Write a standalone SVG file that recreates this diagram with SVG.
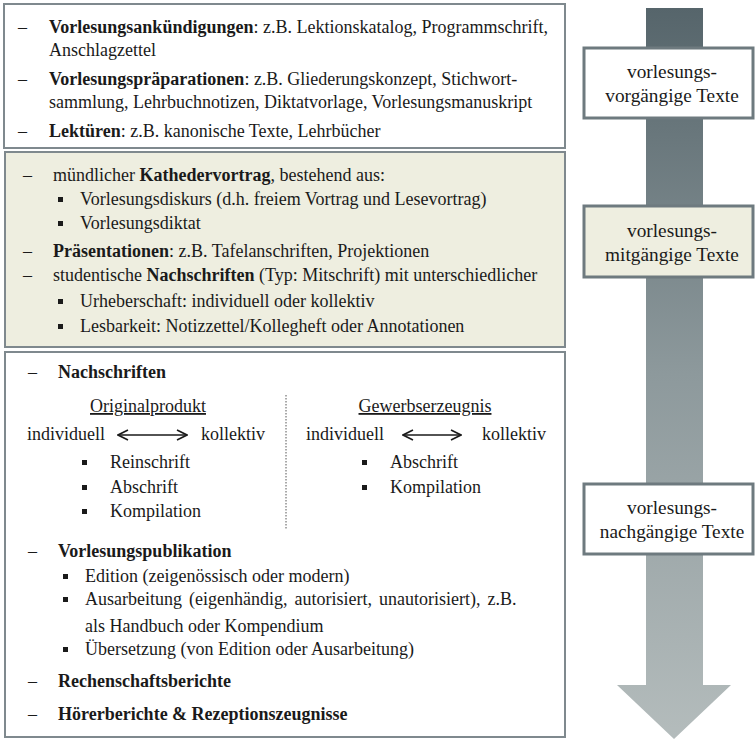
<svg xmlns="http://www.w3.org/2000/svg" width="755" height="740" viewBox="0 0 755 740">
<defs>
<linearGradient id="arrowGrad" x1="0" y1="0" x2="0" y2="1">
<stop offset="0" stop-color="#56656b"/>
<stop offset="0.5" stop-color="#8d999c"/>
<stop offset="1" stop-color="#b4bcbc"/>
</linearGradient>
<marker id="chev" viewBox="0 0 12 12" refX="11" refY="6" markerWidth="12" markerHeight="12" markerUnits="userSpaceOnUse" orient="auto-start-reverse">
<path d="M1,1 L11,6 L1,11" fill="none" stroke="#1a1a1a" stroke-width="1.6"/>
</marker>
<style>
text{font-size:18px;fill:#1a1a1a}
.b{font-weight:bold}
.lbl{font-size:19.3px;text-anchor:middle}
.box{stroke:#7f898e;stroke-width:2}
.lbox{stroke:#6e7a7f;stroke-width:3}
.u{text-decoration:underline}
.sq{fill:#1a1a1a}
</style>
</defs>
<g font-family="'Liberation Serif', 'Times New Roman', serif">
<rect width="755" height="740" fill="#ffffff"/>
<g id="connectors">
<path d="M646,8 H703 V685 H731 L674,739 L617,685 H646 Z" fill="url(#arrowGrad)"/>
</g>
<g id="box-vor">
<rect class="box" x="4" y="4" width="561" height="144" fill="#ffffff"/>
<text x="18" y="33">–</text>
<text x="49" y="33"><tspan class="b">Vorlesungsankündigungen</tspan>: z.B. Lektionskatalog, Programmschrift,</text>
<text x="49" y="56">Anschlagzettel</text>
<text x="18" y="85">–</text>
<text x="49" y="85"><tspan class="b">Vorlesungspräparationen</tspan>: z.B. Gliederungskonzept, Stichwort-</text>
<text x="49" y="108">sammlung, Lehrbuchnotizen, Diktatvorlage, Vorlesungsmanuskript</text>
<text x="18" y="137">–</text>
<text x="49" y="137"><tspan class="b">Lektüren</tspan>: z.B. kanonische Texte, Lehrbücher</text>
</g>
<g id="box-mit">
<rect class="box" x="5" y="152" width="560" height="195" fill="#eeeee0"/>
<text x="23" y="181">–</text>
<text x="53" y="181">mündlicher <tspan class="b">Kathedervortrag</tspan>, bestehend aus:</text>
<rect class="sq" x="58" y="197" width="5" height="5"/>
<text x="80" y="205">Vorlesungsdiskurs (d.h. freiem Vortrag und Lesevortrag)</text>
<rect class="sq" x="58" y="221" width="5" height="5"/>
<text x="80" y="229">Vorlesungsdiktat</text>
<text x="23" y="257">–</text>
<text x="53" y="257"><tspan class="b">Präsentationen</tspan>: z.B. Tafelanschriften, Projektionen</text>
<text x="23" y="281">–</text>
<text x="53" y="281">studentische <tspan class="b">Nachschriften</tspan> (Typ: Mitschrift) mit unterschiedlicher</text>
<rect class="sq" x="58" y="299" width="5" height="5"/>
<text x="80" y="307">Urheberschaft: individuell oder kollektiv</text>
<rect class="sq" x="58" y="324" width="5" height="5"/>
<text x="80" y="332">Lesbarkeit: Notizzettel/Kollegheft oder Annotationen</text>
</g>
<g id="box-nach">
<rect class="box" x="5" y="352" width="560" height="385" fill="#ffffff"/>
<text x="28" y="378">–</text>
<text x="58" y="378" class="b">Nachschriften</text>
<text x="148" y="412" class="u" text-anchor="middle">Originalprodukt</text>
<text x="27" y="440">individuell</text>
<line x1="118" y1="435" x2="187" y2="435" stroke="#1a1a1a" stroke-width="1.6" marker-start="url(#chev)" marker-end="url(#chev)"/>
<text x="201" y="440">kollektiv</text>
<rect class="sq" x="82" y="460" width="5" height="5"/>
<text x="110" y="468">Reinschrift</text>
<rect class="sq" x="82" y="485" width="5" height="5"/>
<text x="110" y="493">Abschrift</text>
<rect class="sq" x="82" y="509" width="5" height="5"/>
<text x="110" y="517">Kompilation</text>
<line x1="286" y1="395" x2="286" y2="530" stroke="#555" stroke-width="1" stroke-dasharray="1.5,1.5"/>
<text x="425" y="412" class="u" text-anchor="middle">Gewerbserzeugnis</text>
<text x="306" y="440">individuell</text>
<line x1="403" y1="435" x2="461" y2="435" stroke="#1a1a1a" stroke-width="1.6" marker-start="url(#chev)" marker-end="url(#chev)"/>
<text x="482" y="440">kollektiv</text>
<rect class="sq" x="362" y="460" width="5" height="5"/>
<text x="390" y="468">Abschrift</text>
<rect class="sq" x="362" y="485" width="5" height="5"/>
<text x="390" y="493">Kompilation</text>
<text x="28" y="557">–</text>
<text x="58" y="557" class="b">Vorlesungspublikation</text>
<rect class="sq" x="63" y="574" width="5" height="5"/>
<text x="85" y="582">Edition (zeigenössisch oder modern)</text>
<rect class="sq" x="63" y="597" width="5" height="5"/>
<text x="85" y="605" word-spacing="2.5">Ausarbeitung (eigenhändig, autorisiert, unautorisiert), z.B.</text>
<text x="85" y="632">als Handbuch oder Kompendium</text>
<rect class="sq" x="63" y="647" width="5" height="5"/>
<text x="85" y="655">Übersetzung (von Edition oder Ausarbeitung)</text>
<text x="28" y="687">–</text>
<text x="58" y="687" class="b">Rechenschaftsberichte</text>
<text x="28" y="720">–</text>
<text x="58" y="720" class="b">Hörerberichte &amp; Rezeptionszeugnisse</text>
</g>
<g id="label-vor">
<rect class="lbox" x="584" y="48" width="169" height="70" fill="#ffffff"/>
<text class="lbl" x="672" y="78">vorlesungs-</text>
<text class="lbl" x="672" y="102">vorgängige Texte</text>
</g>
<g id="label-mit">
<rect class="lbox" x="584" y="206" width="169" height="71" fill="#eeeee0"/>
<text class="lbl" x="672" y="237">vorlesungs-</text>
<text class="lbl" x="672" y="261">mitgängige Texte</text>
</g>
<g id="label-nach">
<rect class="lbox" x="584" y="484" width="169" height="70" fill="#ffffff"/>
<text class="lbl" x="672" y="514">vorlesungs-</text>
<text class="lbl" x="672" y="538">nachgängige Texte</text>
</g>
</g>
</svg>
